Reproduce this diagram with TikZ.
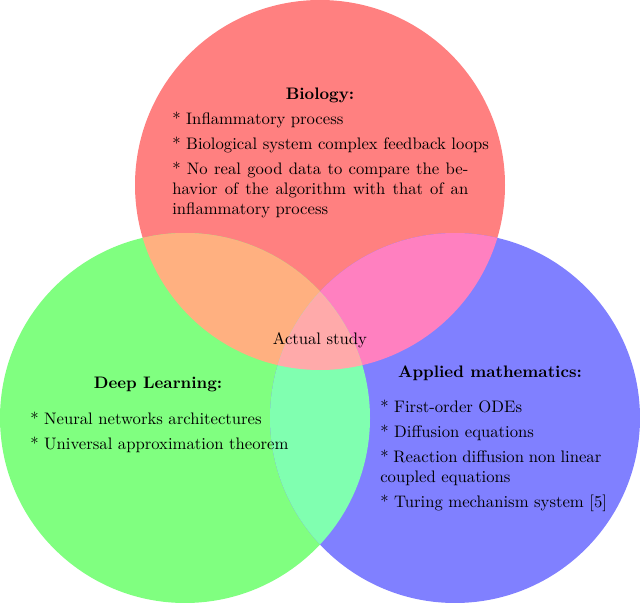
\documentclass[tikz,border=0pt]{standalone}
\begin{document}
\begin{tikzpicture}[x=0.6pt,y=-0.6pt,
 txt/.style={inner sep=0pt,align=justify,anchor=north west},
 ttl/.style={inner sep=0pt,font=\bfseries}]
\definecolor{cR}{HTML}{FF8080}\definecolor{cG}{HTML}{80FF80}\definecolor{cB}{HTML}{8080FF}
\definecolor{cRG}{HTML}{FFB080}\definecolor{cRB}{HTML}{FF80C0}\definecolor{cGB}{HTML}{80FFB0}\definecolor{cRGB}{HTML}{FFAAAA}
\useasboundingbox (0,0) rectangle (640,603);
\def\R{(320,185) circle (185)}\def\G{(185,418) circle (185)}\def\B{(455,418) circle (185)}
\fill[cR] \R; \fill[cG] \G; \fill[cB] \B;
\begin{scope}\clip \R; \fill[cRG] \G; \fill[cRB] \B; \end{scope}
\begin{scope}\clip \G; \fill[cGB] \B; \end{scope}
\begin{scope}\clip \R; \clip \G; \fill[cRGB] \B; \end{scope}
\node[ttl] (bt) at (320,95) {Biology:};
\node[txt] (b1) at (172,112) {* Inflammatory process};
\node[txt] (b2) at (172,137) {* Biological system complex feedback loops};
\node[txt,text width=296*0.6pt] (b3) at (172,162) {* No real good data to compare the behavior of the algorithm with that of an inflammatory process};
\node[ttl] (dt) at (158,384) {Deep Learning:};
\node[txt] (d1) at (30,412) {* Neural networks architectures};
\node[txt] (d2) at (30,437) {* Universal approximation theorem};
\node[ttl] (at) at (490,373) {Applied mathematics:};
\node[txt] (a1) at (380,400) {* First-order ODEs};
\node[txt] (a2) at (380,425) {* Diffusion equations};
\node[txt,text width=221*0.6pt] (a3) at (380,450) {* Reaction diffusion non linear coupled equations};
\node[txt] (a4) at (380,495) {* Turing mechanism system [5]};
\node[inner sep=0pt] (c) at (320,340) {Actual study};
\end{tikzpicture}
\end{document}
